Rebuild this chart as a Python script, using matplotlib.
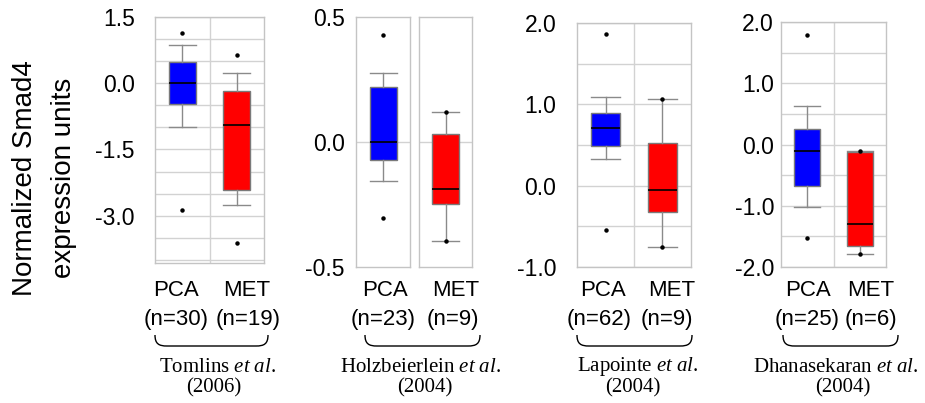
import matplotlib
matplotlib.use("Agg")
import matplotlib.pyplot as plt
from matplotlib.path import Path
from matplotlib.patches import PathPatch
import numpy as np

plt.rcParams['font.family'] = ['Liberation Sans', 'DejaVu Sans']
plt.rcParams['mathtext.fontset'] = 'custom'
plt.rcParams['mathtext.rm'] = 'Liberation Serif'
plt.rcParams['mathtext.it'] = 'Liberation Serif:italic'

# ---------------- data ----------------
groups = ["PCA", "MET"]
studies = ["Tomlins", "Holzbeierlein", "Lapointe", "Dhanasekaran"]
years = ["(2006)", "(2004)", "(2004)", "(2004)"]
n_pca = [30, 23, 62, 25]
n_met = [19, 9, 9, 6]

# box statistics per study: [PCA, MET]
med    = [[0.00, -0.94], [0.000, -0.187], [0.71, -0.05], [-0.103, -1.30]]
q1     = [[-0.47, -2.41], [-0.073, -0.247], [0.486, -0.32], [-0.674, -1.65]]
q3     = [[0.47, -0.17], [0.220, 0.033], [0.89, 0.527], [0.245, -0.12]]
whislo = [[-1.00, -2.76], [-0.155, -0.396], [0.33, -0.75], [-1.016, -1.79]]
whishi = [[0.86, 0.23], [0.276, 0.120], [1.09, 1.066], [0.636, -0.11]]
fliers = [[[1.13, -2.86], [0.65, -3.62]],
          [[0.43, -0.304], [0.12, -0.396]],
          [[1.86, -0.54], [1.066, -0.75]],
          [[1.79, -1.53], [-0.11, -1.79]]]

yticks = [[1.5, 0.0, -1.5, -3.0], [0.5, 0.0, -0.5], [2.0, 1.0, 0.0, -1.0],
          [2.0, 1.0, 0.0, -1.0, -2.0]]
ytick_labels = [["1.5", "0.0", "-1.5", "-3.0"], ["0.5", "0.0", "-0.5"],
                ["2.0", "1.0", "0.0", "-1.0"], ["2.0", "1.0", "0.0", "-1.0", "-2.0"]]
ylims = [(-4.07, 1.5), (-0.5, 0.5), (-1.0, 2.0), (-2.0, 2.0)]
grid_step = [0.5, 0.5, 0.5, 0.5]

colors = ["#0000ff", "#ff0000"]

# ---------------- layout (pixels) ----------------
W, H = 925, 403
fig = plt.figure(figsize=(W / 100, H / 100), dpi=100)

def px_axes(x0, x1, y0, y1):
    return fig.add_axes([x0 / W, 1 - y1 / H, (x1 - x0) / W, (y1 - y0) / H])

GRID = "#d2d2d2"
SPINE = "#c4c4c4"

def style_axes(ax, ylim, ticks, labels, pad, show_labels=True, grid_vals=None):
    ax.set_ylim(*ylim)
    ax.set_yticks(ticks)
    if show_labels:
        ax.set_yticklabels(labels, fontsize=16.5)
    else:
        ax.set_yticklabels([])
    ax.tick_params(axis='y', length=0, pad=pad)
    ax.set_xticks([])
    for s in ax.spines.values():
        s.set_color(SPINE)
        s.set_linewidth(1.0)
    if grid_vals is not None:
        for g in grid_vals:
            ax.axhline(g, color=GRID, lw=1.0, zorder=0)

def stats_for(i, j):
    return dict(med=med[i][j], q1=q1[i][j], q3=q3[i][j], whislo=whislo[i][j],
                whishi=whishi[i][j], fliers=fliers[i][j], label=groups[j])

def draw_boxes(ax, st, pos, cols):
    b = ax.bxp(st, positions=pos, widths=0.5, capwidths=0.5, patch_artist=True,
               showfliers=True, manage_ticks=False,
               boxprops=dict(edgecolor="#7a7a7a", linewidth=1.0),
               medianprops=dict(color="black", linewidth=1.2),
               whiskerprops=dict(color="#8a8a8a", linewidth=1.0),
               capprops=dict(color="#8a8a8a", linewidth=1.0),
               flierprops=dict(marker='o', markersize=2.2, markerfacecolor='black',
                               markeredgecolor='black', linestyle='none'),
               zorder=3)
    for patch, c in zip(b['boxes'], cols):
        patch.set_facecolor(c)
    ax.set_xticks([])

panel_px = [(155, 264, 17, 263), None, (577, 691, 23, 267), (781, 886, 22, 267)]
pads = [14.5, 8.0, 15.0, 5.0]

for i in range(4):
    lo, hi = ylims[i]
    if i == 1:
        axa = px_axes(356, 410, 17, 267)
        axb = px_axes(419, 472, 17, 267)
        style_axes(axa, ylims[i], yticks[i], ytick_labels[i], pads[i], True, [0.0])
        style_axes(axb, ylims[i], yticks[i], ytick_labels[i], pads[i], False, [0.0])
        axa.set_xlim(0.5, 1.5)
        axb.set_xlim(0.5, 1.5)
        draw_boxes(axa, [stats_for(i, 0)], [1], [colors[0]])
        draw_boxes(axb, [stats_for(i, 1)], [1], [colors[1]])
    else:
        x0, x1, y0, y1 = panel_px[i]
        ax = px_axes(x0, x1, y0, y1)
        gv = np.arange(np.ceil(lo / grid_step[i]) * grid_step[i], hi + 1e-9, grid_step[i])
        style_axes(ax, ylims[i], yticks[i], ytick_labels[i], pads[i], True, gv)
        ax.set_xlim(0.5, 2.5)
        ax.axvline(1.5, color=GRID, lw=1.0, zorder=0)
        draw_boxes(ax, [stats_for(i, 0), stats_for(i, 1)], [1, 2], colors)

# ---------------- bottom annotations ----------------
def ftext(px, py, s, **kw):
    fig.text(px / W, 1 - py / H, s, ha='center', va='center', **kw)

pca_x = [176, 385, 603, 808]
met_x = [247, 456, 672, 871]
npca_x = [176.5, 383, 599, 807]
nmet_x = [248, 453, 667, 871]
brace_x = [(155, 268), (365, 480), (577, 692), (783, 898)]
cite_x = [218, 421, 638, 836]
year_x = [214, 425, 633, 843]

for i in range(4):
    ftext(pca_x[i], 291, groups[0], fontsize=16)
    ftext(met_x[i], 291, groups[1], fontsize=16)
    ftext(npca_x[i], 319, f"(n={n_pca[i]})", fontsize=16)
    ftext(nmet_x[i], 319, f"(n={n_met[i]})", fontsize=16)
    ftext(cite_x[i], 367, studies[i] + r" $\mathit{et\ al.}$", fontsize=15,
          family='Liberation Serif')
    ftext(year_x[i], 388, years[i], fontsize=15, family='Liberation Serif')
    # brace
    bx0, bx1 = brace_x[i]
    yt, yb = 335, 346
    r = 12
    verts = [(bx0, yt), (bx0, yb - 2), (bx0 + 4, yb), (bx0 + r, yb),
             (bx1 - r, yb),
             (bx1 - 4, yb), (bx1, yb - 2), (bx1, yt)]
    codes = [Path.MOVETO, Path.CURVE4, Path.CURVE4, Path.CURVE4,
             Path.LINETO,
             Path.CURVE4, Path.CURVE4, Path.CURVE4]
    verts_f = [(vx / W, 1 - vy / H) for vx, vy in verts]
    fig.patches.append(PathPatch(Path(verts_f, codes), transform=fig.transFigure,
                                 fill=False, edgecolor='black', lw=1.0))

# y label
fig.text(25 / W, 1 - 178 / H, "Normalized Smad4", rotation=90, ha='center',
         va='center', fontsize=20)
fig.text(64 / W, 1 - 178 / H, "expression units", rotation=90, ha='center',
         va='center', fontsize=20)

fig.savefig("out.png", dpi=100)
